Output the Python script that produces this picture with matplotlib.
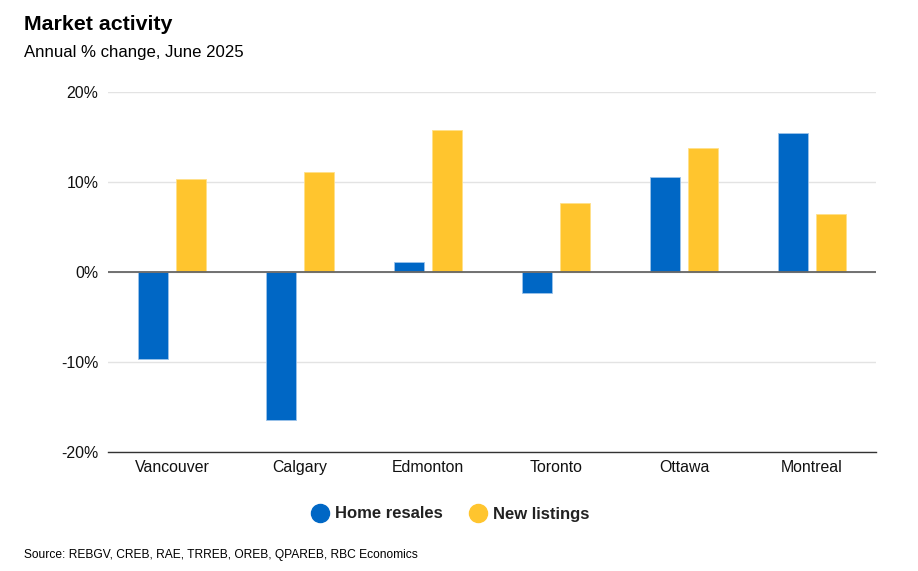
import matplotlib.pyplot as plt
import numpy as np
from matplotlib.lines import Line2D

plt.rcParams['font.family'] = ['Liberation Sans', 'DejaVu Sans']

# %% Data
cities = ["Vancouver", "Calgary", "Edmonton", "Toronto", "Ottawa", "Montreal"]
home_resales = [-9.7, -16.4, 1.1, -2.3, 10.6, 15.4]
new_listings = [10.3, 11.1, 15.8, 7.7, 13.8, 6.5]
y_ticks = [-20, -10, 0, 10, 20]

blue = "#0067C5"
yellow = "#FFC52E"

# %% Plot
fig = plt.figure(figsize=(9.18, 5.71), dpi=100)
ax = fig.add_axes([108 / 918, 1 - 452 / 571, 768 / 918, 360 / 571])

x = np.arange(len(cities))
width = 0.234
offset = 0.1485

ax.bar(x - offset, home_resales, width, color=blue, edgecolor="#9cc3ea", linewidth=0.6, zorder=3)
ax.bar(x + offset, new_listings, width, color=yellow, edgecolor="#ffe08a", linewidth=0.6, zorder=3)

ax.set_xlim(-0.5, len(cities) - 0.5)
ax.set_ylim(-20, 20)
ax.set_yticks(y_ticks)
ax.set_yticklabels([f"{t}%" for t in y_ticks])
ax.set_xticks(x)
ax.set_xticklabels(cities)

ax.grid(axis="y", color="#e3e3e3", linewidth=1, zorder=0)
ax.axhline(0, color="#666666", linewidth=1.3, zorder=4)
for s in ["left", "right", "top"]:
    ax.spines[s].set_visible(False)
ax.spines["bottom"].set_color("#333333")
ax.spines["bottom"].set_linewidth(1)
ax.tick_params(axis="both", length=0, labelsize=11.4, colors="#111111")
ax.tick_params(axis="y", pad=7)
ax.tick_params(axis="x", pad=6)

# titles
fig.text(24 / 918, 1 - 24.5 / 571, "Market activity", fontsize=15.4, fontweight="bold",
         va="center", ha="left")
fig.text(24 / 918, 1 - 53 / 571, "Annual % change, June 2025", fontsize=12.1,
         va="center", ha="left")
fig.text(24 / 918, 1 - 555 / 571, "Source: REBGV, CREB, RAE, TRREB, OREB, QPAREB, RBC Economics",
         fontsize=8.65, va="center", ha="left")

# legend
handles = [
    Line2D([], [], marker="o", linestyle="", markersize=13, color=blue),
    Line2D([], [], marker="o", linestyle="", markersize=13, color=yellow),
]
leg = fig.legend(handles, ["Home resales", "New listings"], loc="center",
                 bbox_to_anchor=(450 / 918, 1 - 514 / 571), ncol=2, frameon=False,
                 prop={"weight": "bold", "size": 12}, handletextpad=0.3,
                 columnspacing=1.5, handlelength=1.2)
for t in leg.get_texts():
    t.set_color("#222222")

fig.savefig("out.png", dpi=100)
